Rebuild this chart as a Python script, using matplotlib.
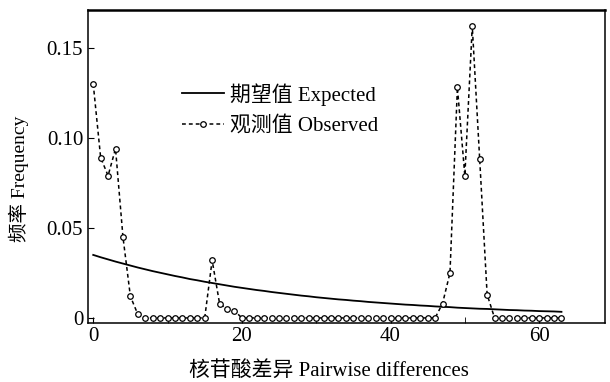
import matplotlib
matplotlib.use('Agg')
import matplotlib.pyplot as plt

# pairwise differences 0..63
diffs = list(range(64))

# expected (solid) frequency
expected = [0.0350, 0.0337, 0.0325, 0.0313, 0.0302, 0.0291, 0.0280, 0.0270,
            0.0260, 0.0251, 0.0242, 0.0233, 0.0225, 0.0216, 0.0209, 0.0201,
            0.0194, 0.0187, 0.0180, 0.0173, 0.0167, 0.0161, 0.0155, 0.0150,
            0.0144, 0.0139, 0.0134, 0.0129, 0.0124, 0.0120, 0.0115, 0.0111,
            0.0107, 0.0103, 0.0100, 0.0096, 0.0093, 0.0089, 0.0086, 0.0083,
            0.0080, 0.0077, 0.0074, 0.0072, 0.0069, 0.0067, 0.0064, 0.0062,
            0.0060, 0.0057, 0.0055, 0.0053, 0.0051, 0.0050, 0.0048, 0.0046,
            0.0044, 0.0043, 0.0041, 0.0040, 0.0038, 0.0037, 0.0036, 0.0034]

# observed (dashed + circles) frequency
observed = [0.130, 0.089, 0.079, 0.094, 0.045, 0.012, 0.002, 0.0, 0.0, 0.0,
            0.0, 0.0, 0.0, 0.0, 0.0, 0.0, 0.032, 0.008, 0.005, 0.004,
            0.0, 0.0, 0.0, 0.0, 0.0, 0.0, 0.0, 0.0, 0.0, 0.0,
            0.0, 0.0, 0.0, 0.0, 0.0, 0.0, 0.0, 0.0, 0.0, 0.0,
            0.0, 0.0, 0.0, 0.0, 0.0, 0.0, 0.0, 0.008, 0.025, 0.128,
            0.079, 0.162, 0.088, 0.013, 0.0, 0.0, 0.0, 0.0, 0.0, 0.0,
            0.0, 0.0, 0.0, 0.0]

xticks = [0, 20, 40, 60]
yticks = [0, 0.05, 0.10, 0.15]
yticklabels = ['0', '0.05', '0.10', '0.15']

fonts = ['Liberation Serif', 'Noto Sans CJK SC', 'DejaVu Sans']
plt.rcParams['font.family'] = fonts

fig = plt.figure(figsize=(6.1, 3.82), dpi=100)
ax = fig.add_axes([0.1443, 0.1545, 0.848, 0.8193])

ax.plot(diffs, expected, '-', color='black', lw=1.3, label='期望值 Expected')
ax.plot(diffs, observed, '--', color='black', lw=1.1, dashes=(2.5, 2),
        marker='o', ms=4, mfc='white', mec='black', mew=0.9,
        label='观测值 Observed')

ax.set_xlim(-0.7, 68.9)
ax.set_ylim(-0.0028, 0.171)
ax.set_xticks(xticks)
ax.set_xticks([10, 30, 50], minor=True)
ax.set_yticks(yticks)
ax.set_yticklabels(yticklabels)
ax.tick_params(direction='in', labelsize=15, length=4, top=False, right=False)
ax.tick_params(which='minor', direction='in', length=4, top=False)
ax.tick_params(axis='x', pad=3)

for s in ax.spines.values():
    s.set_linewidth(1.1)
ax.spines['top'].set_linewidth(1.8)

ax.set_xlabel('核苷酸差异 Pairwise differences', fontsize=15)
ax.set_ylabel('频率 Frequency', fontsize=14)
ax.xaxis.set_label_coords(0.466, -0.12)
ax.yaxis.set_label_coords(-0.115, 0.46)

ax.legend(loc='upper left', bbox_to_anchor=(0.162, 0.80), frameon=False,
          fontsize=15, handlelength=2.0, handletextpad=0.3,
          labelspacing=0.5, borderpad=0)

fig.savefig('out.png', dpi=100)
